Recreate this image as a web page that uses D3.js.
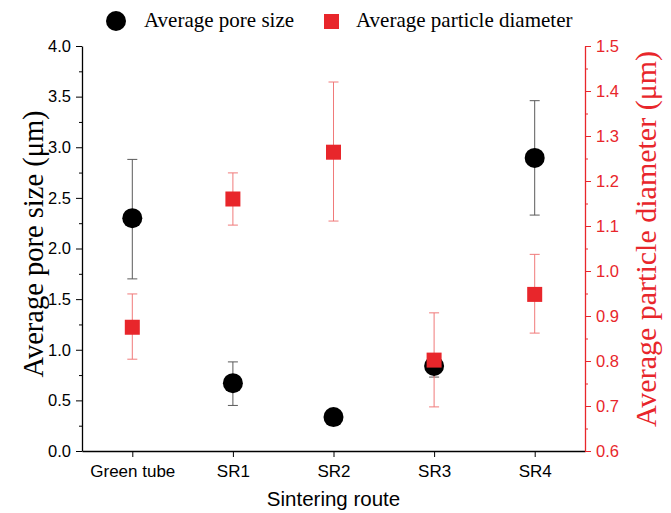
<!DOCTYPE html>
<html lang="en">
<head>
<meta charset="UTF-8">
<title>Pore size and particle diameter by sintering route</title>
<script src="https://d3js.org/d3.v7.min.js"></script>
<style>
  body { margin: 0; background: #fff; }
  .tick text { font-family: "Liberation Sans", Arial, sans-serif; font-size: 16.5px; }
  .xaxis .tick text { font-size: 17px; }
</style>
</head>
<body>
<div id="chart"></div>
<script>
// values
const routes = ["Green tube", "SR1", "SR2", "SR3", "SR4"];
const poreSize = [2.30, 0.67, 0.335, 0.84, 2.895];
const poreLow = [1.70, 0.45, 0.335, 0.73, 2.33];
const poreHigh = [2.88, 0.88, 0.335, 0.95, 3.46];
const particleDia = [0.875, 1.16, 1.264, 0.802, 0.948];
const particleLow = [0.804, 1.102, 1.111, 0.698, 0.862];
const particleHigh = [0.949, 1.218, 1.42, 0.907, 1.037];
const leftTicks = [0, 0.5, 1, 1.5, 2, 2.5, 3, 3.5, 4];
const rightTicks = [0.6, 0.7, 0.8, 0.9, 1.0, 1.1, 1.2, 1.3, 1.4, 1.5];

const W = 671, H = 513;
const margin = { top: 46, right: 86, bottom: 62, left: 82 };
const red = "#e8262b";

const svg = d3.select("#chart").append("svg")
  .attr("width", W).attr("height", H);

const x = d3.scaleLinear().domain([0.5, 5.5]).range([margin.left, W - margin.right]);
const yL = d3.scaleLinear().domain([0, 4]).range([H - margin.bottom, margin.top]);
const yR = d3.scaleLinear().domain([0.6, 1.5]).range([H - margin.bottom, margin.top]);

// minor ticks first
svg.append("g")
  .attr("transform", `translate(${margin.left},0)`)
  .call(d3.axisLeft(yL).tickValues(d3.range(0.25, 4, 0.5)).tickSize(3).tickFormat(""))
  .call(g => g.select(".domain").remove());
svg.append("g")
  .attr("transform", `translate(${W - margin.right},0)`)
  .call(d3.axisRight(yR).tickValues(d3.range(0.65, 1.5, 0.1)).tickSize(3).tickFormat(""))
  .call(g => g.select(".domain").remove())
  .call(g => g.selectAll("line").attr("stroke", red));

// bottom axis
svg.append("g")
  .attr("class", "xaxis")
  .attr("transform", `translate(0,${H - margin.bottom})`)
  .call(d3.axisBottom(x).tickValues([1, 2, 3, 4, 5]).tickSize(6).tickSizeOuter(0).tickPadding(8)
    .tickFormat((d, i) => routes[i]))
  .call(g => g.select(".domain").attr("stroke-width", 1.3));

// left axis
svg.append("g")
  .attr("transform", `translate(${margin.left},0)`)
  .call(d3.axisLeft(yL).tickValues(leftTicks).tickSize(6).tickSizeOuter(0).tickPadding(5).tickFormat(d3.format(".1f")))
  .call(g => g.select(".domain").attr("stroke-width", 1.3));

// right axis
svg.append("g")
  .attr("transform", `translate(${W - margin.right},0)`)
  .call(d3.axisRight(yR).tickValues(rightTicks).tickSize(6).tickSizeOuter(0).tickPadding(5).tickFormat(d3.format(".1f")))
  .call(g => g.select(".domain").attr("stroke", red).attr("stroke-width", 1.3))
  .call(g => g.selectAll("line").attr("stroke", red))
  .call(g => g.selectAll("text").attr("fill", red));

// error bars
function errorBars(lo, hi, yScale, color) {
  const g = svg.append("g").attr("stroke", color).attr("stroke-width", 1);
  routes.forEach((r, i) => {
    if (hi[i] === lo[i]) return;
    const cx = x(i + 1);
    g.append("line").attr("x1", cx).attr("x2", cx).attr("y1", yScale(lo[i])).attr("y2", yScale(hi[i]));
    [lo[i], hi[i]].forEach(v => {
      g.append("line").attr("x1", cx - 5).attr("x2", cx + 5).attr("y1", yScale(v)).attr("y2", yScale(v));
    });
  });
}
errorBars(poreLow, poreHigh, yL, "#5a5a5a");
errorBars(particleLow, particleHigh, yR, "#f07a7a");

svg.append("g").selectAll("circle")
  .data(poreSize).enter().append("circle")
  .attr("cx", (d, i) => x(i + 1))
  .attr("cy", d => yL(d))
  .attr("r", 10)
  .attr("fill", "#000");

svg.append("g").selectAll("rect")
  .data(particleDia).enter().append("rect")
  .attr("x", (d, i) => x(i + 1) - 7.5)
  .attr("y", d => yR(d) - 7.5)
  .attr("width", 15).attr("height", 15)
  .attr("fill", red);

// axis titles
svg.append("text")
  .attr("transform", `translate(43,244) rotate(-90)`)
  .attr("text-anchor", "middle")
  .style("font-family", "'Liberation Serif', 'Times New Roman', serif").style("font-size", "28.5px")
  .text("Average pore size (μm)");

svg.append("text")
  .attr("transform", `translate(656,239) rotate(-90)`)
  .attr("text-anchor", "middle")
  .attr("fill", red)
  .style("font-family", "'Liberation Serif', 'Times New Roman', serif").style("font-size", "30px")
  .text("Average particle diameter (μm)");

svg.append("text")
  .attr("x", (margin.left + W - margin.right) / 2).attr("y", 506)
  .attr("text-anchor", "middle")
  .style("font-family", "'Liberation Sans', Arial, sans-serif").style("font-size", "20.5px")
  .text("Sintering route");

// legend
const legend = svg.append("g")
  .style("font-family", "'Liberation Serif', 'Times New Roman', serif").style("font-size", "21px");
legend.append("circle").attr("cx", 116).attr("cy", 21).attr("r", 10).attr("fill", "#000");
legend.append("text").attr("x", 144).attr("y", 27).text("Average pore size");
legend.append("rect").attr("x", 324).attr("y", 14).attr("width", 15).attr("height", 15).attr("fill", red);
legend.append("text").attr("x", 356).attr("y", 27).text("Average particle diameter");
</script>
</body>
</html>
